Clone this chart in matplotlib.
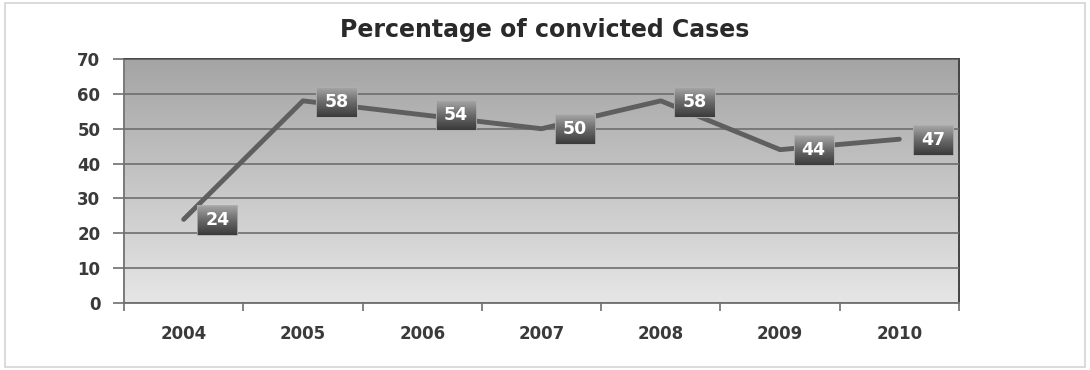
import numpy as np
import matplotlib.pyplot as plt
from matplotlib.colors import LinearSegmentedColormap
from matplotlib.patches import Rectangle

# data
years = ['2004', '2005', '2006', '2007', '2008', '2009', '2010']
convicted_pct = [24, 58, 54, 50, 58, 44, 47]
y_ticks = [0, 10, 20, 30, 40, 50, 60, 70]

fig = plt.figure(figsize=(10.9, 3.7), dpi=100)
ax = fig.add_axes([0.1138, 0.181, 0.766, 0.6595])

# outer chart border
fig.patches.append(Rectangle((0.005, 0.008), 0.99, 0.984, transform=fig.transFigure,
                             fill=False, edgecolor='#d4d4d4', linewidth=1.2))

# gradient plot area background (dark at top, light at bottom)
grad = np.linspace(0, 1, 256).reshape(-1, 1)
bg_cmap = LinearSegmentedColormap.from_list('bg', ['#a4a4a4', '#e6e6e6'])
ax.imshow(grad, extent=[0, 1, 0, 1], transform=ax.transAxes, aspect='auto',
          cmap=bg_cmap, origin='upper', zorder=0)

x = np.arange(len(years)) + 0.5
ax.plot(x, convicted_pct, color='#5f5f5f', linewidth=3.5, solid_capstyle='round',
        solid_joinstyle='round', zorder=3)

ax.set_xlim(0, len(years))
ax.set_ylim(0, 70)

# data labels to the right of each point
labels = []
for xi, val in zip(x, convicted_pct):
    t = ax.annotate(str(val), (xi, val), xytext=(15.5, -0.5), textcoords='offset points',
                    ha='left', va='center', color='white', fontsize=12.5, fontweight='bold',
                    zorder=6)
    labels.append(t)

# gradient boxes behind the labels
fig.canvas.draw()
renderer = fig.canvas.get_renderer()
box_cmap = LinearSegmentedColormap.from_list('box', ['#a8a8a8', '#6a6a6a', '#3a3a3a'])
inv = ax.transData.inverted()
for t in labels:
    bb = t.get_window_extent(renderer)
    (bx0, by0), (bx1, by1) = inv.transform([(bb.x0 - 8, bb.y0 - 6), (bb.x1 + 8, bb.y1 + 6)])
    ax.imshow(grad, extent=[bx0, bx1, by0, by1], aspect='auto', cmap=box_cmap,
              origin='upper', zorder=5)
    ax.add_patch(Rectangle((bx0, by0), bx1 - bx0, by1 - by0, fill=False,
                           edgecolor='#b0b0b0', linewidth=0.6, zorder=5))

ax.set_xlim(0, len(years))
ax.set_ylim(0, 70)
ax.set_yticks(y_ticks)
ax.yaxis.grid(True, color='#6e6e6e', linewidth=1.2)
ax.set_axisbelow(False)
for gl in ax.get_ygridlines():
    gl.set_zorder(1)

ax.set_xticks(np.arange(len(years) + 1))
ax.set_xticklabels([])
ax.set_xticks(x, minor=True)
ax.set_xticklabels(years, minor=True)
ax.tick_params(axis='x', which='major', length=6, width=1.2, color='#707070', direction='out')
ax.tick_params(axis='x', which='minor', length=0, pad=16)
ax.tick_params(axis='y', length=8, width=1.2, color='#707070', pad=9)
for lbl in ax.get_xticklabels(minor=True) + ax.get_yticklabels():
    lbl.set_fontweight('bold')
    lbl.set_fontsize(12)
    lbl.set_color('#3a3a3a')

for side in ['left', 'bottom']:
    ax.spines[side].set_color('#7a7a7a')
    ax.spines[side].set_linewidth(1.4)
for side in ['top', 'right']:
    ax.spines[side].set_color('#444444')
    ax.spines[side].set_linewidth(1.4)

fig.text(0.5, 0.918, 'Percentage of convicted Cases', ha='center', va='center',
         fontsize=17, fontweight='bold', color='#2a2a2a')

fig.savefig('out.png', dpi=100)
